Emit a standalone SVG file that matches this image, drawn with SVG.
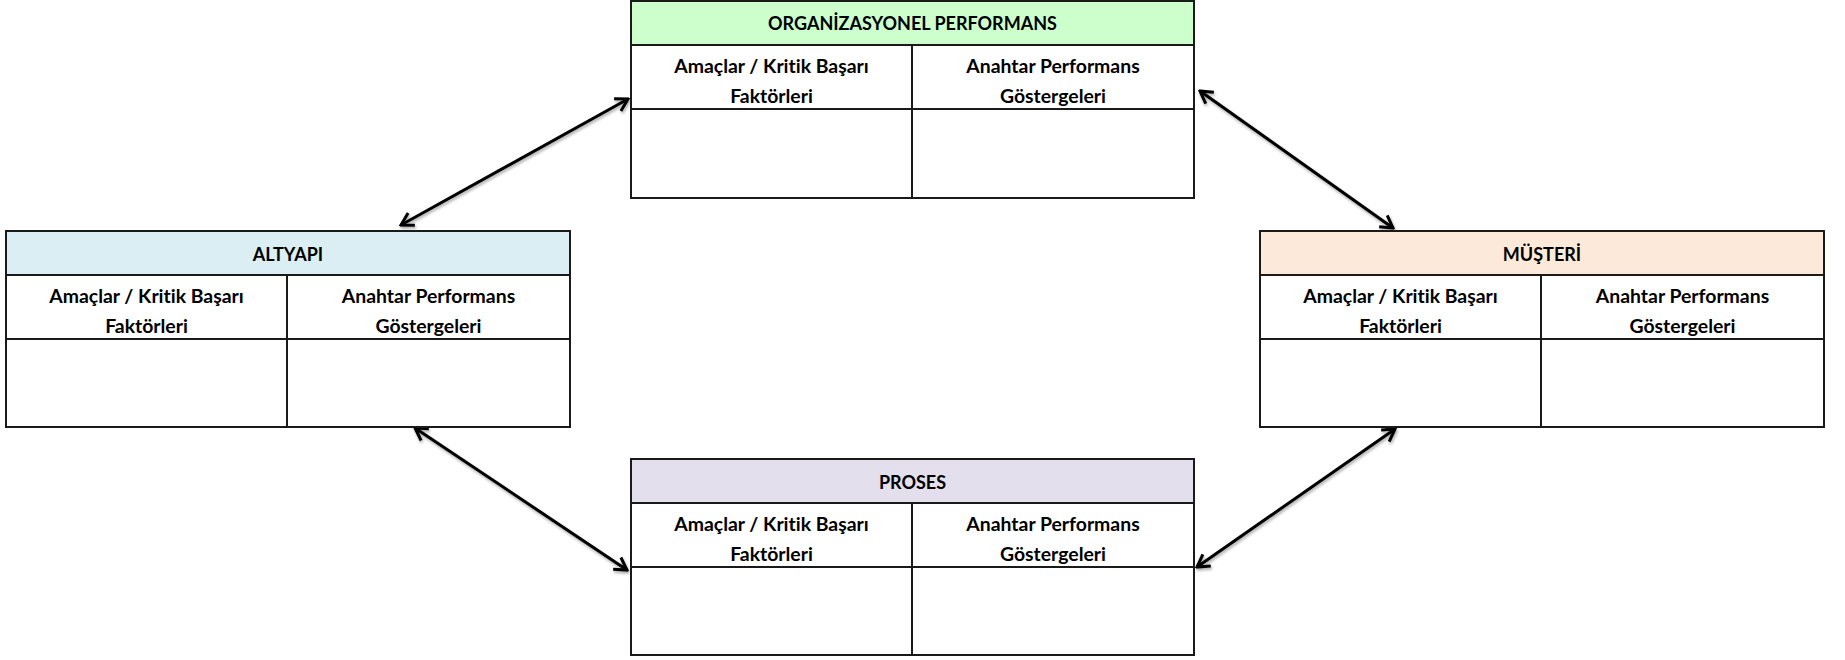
<svg xmlns="http://www.w3.org/2000/svg" width="1845" height="660" viewBox="0 0 1845 660">
  <defs>
    <marker id="tip" viewBox="-14 -9 16 18" refX="0" refY="0" markerWidth="16" markerHeight="18" markerUnits="userSpaceOnUse" orient="auto-start-reverse">
      <path d="M -12 -7 L 0 0 L -12 7" fill="none" stroke="#000" stroke-width="3" stroke-linejoin="miter"/>
    </marker>
    <filter id="soft" x="-10%" y="-10%" width="120%" height="120%">
      <feGaussianBlur in="SourceAlpha" stdDeviation="1.5"/>
      <feOffset dx="1" dy="2" result="sh"/>
      <feComponentTransfer><feFuncA type="linear" slope="0.35"/></feComponentTransfer>
      <feMerge><feMergeNode/><feMergeNode in="SourceGraphic"/></feMerge>
    </filter>
  </defs>
  <style>
    .frame { fill: #fff; stroke: #1a1a1a; stroke-width: 2; }
    .rule { stroke: #1a1a1a; stroke-width: 2; fill: none; }
    .hdr { stroke: #1a1a1a; stroke-width: 2; }
    .t { font-family: Lato, "Open Sans", "Liberation Sans", sans-serif; font-weight: bold; font-size: 19.4px; fill: #000; text-anchor: middle; dominant-baseline: central; font-variant-ligatures: none; font-feature-settings: "liga" 0, "dlig" 0; }
    .h { font-size: 18px; }
    .link { stroke: #000; stroke-width: 3; fill: none; marker-start: url(#tip); marker-end: url(#tip); }
  </style>
  <rect width="1845" height="660" fill="#fff"/>

  <!-- double-headed connectors between the four perspectives -->
  <g id="connectors" filter="url(#soft)">
    <line class="link" x1="401" y1="225" x2="628" y2="99"/>
    <line class="link" x1="1200" y1="91" x2="1393" y2="228"/>
    <line class="link" x1="415" y1="428" x2="627" y2="570"/>
    <line class="link" x1="1395" y1="429" x2="1197" y2="567"/>
  </g>

  <!-- top: organisational performance -->
  <g id="organizasyonel">
    <rect class="frame" x="631" y="1" width="563" height="197"/>
    <rect class="hdr" x="631" y="1" width="563" height="44" fill="#ccffcc"/>
    <line class="rule" x1="631" y1="109" x2="1194" y2="109"/>
    <line class="rule" x1="912" y1="45" x2="912" y2="198"/>
    <text class="t h" x="912.5" y="23">ORGANİZASYONEL PERFORMANS</text>
    <text class="t" x="771.5" y="65">Amaçlar / Kritik Başarı</text>
    <text class="t" x="771.5" y="95">Faktörleri</text>
    <text class="t" x="1053" y="65">Anahtar Performans</text>
    <text class="t" x="1053" y="95">Göstergeleri</text>
  </g>

  <!-- left: infrastructure -->
  <g id="altyapi">
    <rect class="frame" x="6" y="231" width="564" height="196"/>
    <rect class="hdr" x="6" y="231" width="564" height="44" fill="#daeef3"/>
    <line class="rule" x1="6" y1="339" x2="570" y2="339"/>
    <line class="rule" x1="287" y1="275" x2="287" y2="427"/>
    <text class="t h" x="288" y="254">ALTYAPI</text>
    <text class="t" x="146.5" y="295">Amaçlar / Kritik Başarı</text>
    <text class="t" x="146.5" y="325">Faktörleri</text>
    <text class="t" x="428.5" y="295">Anahtar Performans</text>
    <text class="t" x="428.5" y="325">Göstergeleri</text>
  </g>

  <!-- right: customer -->
  <g id="musteri">
    <rect class="frame" x="1260" y="231" width="564" height="196"/>
    <rect class="hdr" x="1260" y="231" width="564" height="44" fill="#fde9d9"/>
    <line class="rule" x1="1260" y1="339" x2="1824" y2="339"/>
    <line class="rule" x1="1541" y1="275" x2="1541" y2="427"/>
    <text class="t h" x="1542" y="254">MÜŞTERİ</text>
    <text class="t" x="1400.5" y="295">Amaçlar / Kritik Başarı</text>
    <text class="t" x="1400.5" y="325">Faktörleri</text>
    <text class="t" x="1682.5" y="295">Anahtar Performans</text>
    <text class="t" x="1682.5" y="325">Göstergeleri</text>
  </g>

  <!-- bottom: process -->
  <g id="proses">
    <rect class="frame" x="631" y="459" width="563" height="196"/>
    <rect class="hdr" x="631" y="459" width="563" height="44" fill="#e4dfec"/>
    <line class="rule" x1="631" y1="567" x2="1194" y2="567"/>
    <line class="rule" x1="912" y1="503" x2="912" y2="655"/>
    <text class="t h" x="912.5" y="482">PROSES</text>
    <text class="t" x="771.5" y="523">Amaçlar / Kritik Başarı</text>
    <text class="t" x="771.5" y="553">Faktörleri</text>
    <text class="t" x="1053" y="523">Anahtar Performans</text>
    <text class="t" x="1053" y="553">Göstergeleri</text>
  </g>
</svg>
